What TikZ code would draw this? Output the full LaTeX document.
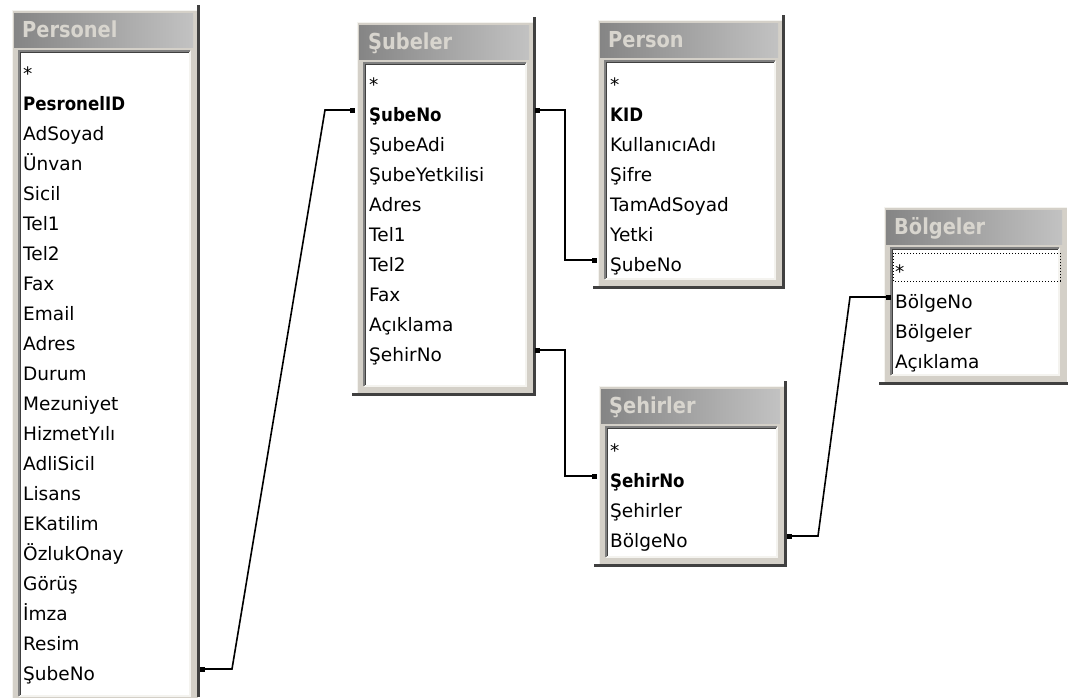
\documentclass[tikz,border=0pt]{standalone}
\usepackage{fontspec}
\setmainfont{DejaVu Sans}
\usepackage{graphicx}
\usetikzlibrary{calc}
\definecolor{face}{HTML}{D4D0C8}
\definecolor{dark}{HTML}{404040}
\definecolor{mid}{HTML}{808080}
\definecolor{hilite}{HTML}{F4F3EF}
\definecolor{titleL}{HTML}{858585}
\definecolor{titleR}{HTML}{C2C2C2}
\definecolor{titletext}{HTML}{D8D5CE}
\newcommand\keytxt[1]{\scalebox{0.9}[1]{\bfseries #1}}
\newcommand\ttltxt[1]{\scalebox{0.88}[1]{\bfseries #1}}
\newcommand\tablewin[4]{%
  \fill[face] ({#1},{#2}) rectangle ({#3},{#4});
  \draw[hilite, line width=1pt] ({#1+0.5},{#4}) -- ({#1+0.5},{#2+0.5}) -- ({#3},{#2+0.5});
  \shade[left color=titleL, right color=titleR] ({#1+2},{#2+3}) rectangle ({#3-5},{#2+37});
  \fill[white] ({#1+7},{#2+41}) rectangle ({#3-8},{#4-8});
  \draw[hilite, line width=1.5pt] ({#1+7},{#4-8}) -- ({#3-8},{#4-8}) -- ({#3-8},{#2+41});
  \draw[mid, line width=1.5pt] ({#1+7},{#4-8}) -- ({#1+7},{#2+41}) -- ({#3-8},{#2+41});
  \draw[dark, line width=1.5pt] ({#1+8.5},{#4-9.5}) -- ({#1+8.5},{#2+42.5}) -- ({#3-9.5},{#2+42.5});
}
\tikzset{
  fld/.style={anchor=base west, inner sep=0pt, text=black, font=\fontsize{18.5}{20}\selectfont},
  ttl/.style={anchor=base west, inner sep=0pt, text=titletext, font=\fontsize{22}{24}\selectfont},
  shadowline/.style={dark, line width=3pt},
  rel/.style={black, line width=1.6pt},
  port/.style={fill=black, draw=none, minimum size=5pt, inner sep=0pt}
}
\begin{document}
\begin{tikzpicture}[x=1pt,y=-1pt]
\useasboundingbox (0,0) rectangle (1068,697);
\fill[white] (0,0) rectangle (1068,697);

% ---------- Personel ----------
\tablewin{12}{10}{198}{704}
\draw[shadowline] (198,5) -- (198,697);
\node[ttl] (perT) at (22,37) {\ttltxt{Personel}};
\node[fld] (per0) at (23,80) {*};
\node[fld] (per1) at (23,110) {\keytxt{PesronelID}};
\node[fld] (per2) at (23,140) {AdSoyad};
\node[fld] (per3) at (23,170) {Ünvan};
\node[fld] (per4) at (23,200) {Sicil};
\node[fld] (per5) at (23,230) {Tel1};
\node[fld] (per6) at (23,260) {Tel2};
\node[fld] (per7) at (23,290) {Fax};
\node[fld] (per8) at (23,320) {Email};
\node[fld] (per9) at (23,350) {Adres};
\node[fld] (per10) at (23,380) {Durum};
\node[fld] (per11) at (23,410) {Mezuniyet};
\node[fld] (per12) at (23,440) {HizmetYılı};
\node[fld] (per13) at (23,470) {AdliSicil};
\node[fld] (per14) at (23,500) {Lisans};
\node[fld] (per15) at (23,530) {EKatilim};
\node[fld] (per16) at (23,560) {ÖzlukOnay};
\node[fld] (per17) at (23,590) {Görüş};
\node[fld] (per18) at (23,620) {İmza};
\node[fld] (per19) at (23,650) {Resim};
\node[fld] (per20) at (23,680) {ŞubeNo};

% ---------- Subeler ----------
\tablewin{357}{22}{534}{394}
\draw[shadowline] (534,17) -- (534,394) -- (352,394);
\node[ttl] (subT) at (368,49) {\ttltxt{Şubeler}};
\node[fld] (sub0) at (369,91) {*};
\node[fld] (sub1) at (369,121) {\keytxt{ŞubeNo}};
\node[fld] (sub2) at (369,151) {ŞubeAdi};
\node[fld] (sub3) at (369,181) {ŞubeYetkilisi};
\node[fld] (sub4) at (369,211) {Adres};
\node[fld] (sub5) at (369,241) {Tel1};
\node[fld] (sub6) at (369,271) {Tel2};
\node[fld] (sub7) at (369,301) {Fax};
\node[fld] (sub8) at (369,331) {Açıklama};
\node[fld] (sub9) at (369,361) {ŞehirNo};

% ---------- Person ----------
\tablewin{598}{20}{783}{287}
\draw[shadowline] (783,15) -- (783,287) -- (593,287);
\node[ttl] (psnT) at (608,47) {\ttltxt{Person}};
\node[fld] (psn0) at (610,91) {*};
\node[fld] (psn1) at (610,121) {\keytxt{KID}};
\node[fld] (psn2) at (610,151) {KullanıcıAdı};
\node[fld] (psn3) at (610,181) {Şifre};
\node[fld] (psn4) at (610,211) {TamAdSoyad};
\node[fld] (psn5) at (610,241) {Yetki};
\node[fld] (psn6) at (610,271) {ŞubeNo};

% ---------- Sehirler ----------
\tablewin{599}{386}{785}{565}
\draw[shadowline] (785,381) -- (785,565) -- (594,565);
\node[ttl] (sehT) at (609,413) {\ttltxt{Şehirler}};
\node[fld] (seh0) at (610,457) {*};
\node[fld] (seh1) at (610,487) {\keytxt{ŞehirNo}};
\node[fld] (seh2) at (610,517) {Şehirler};
\node[fld] (seh3) at (610,547) {BölgeNo};

% ---------- Bolgeler ----------
\tablewin{884}{207}{1067}{383}
\draw[shadowline] (879,383) -- (1068,383);
\node[ttl] (bolT) at (894,234) {\ttltxt{Bölgeler}};
\draw[black, dotted, line width=1pt] (893,253) rectangle (1060,281);
\node[fld] (bol0) at (895,278) {*};
\node[fld] (bol1) at (895,308) {BölgeNo};
\node[fld] (bol2) at (895,338) {Bölgeler};
\node[fld] (bol3) at (895,368) {Açıklama};

% ---------- relationship ports ----------
\coordinate (perSubeR) at (202,669);
\coordinate (subSubeL) at (352,110);
\coordinate (subSubeR) at (537,110);
\coordinate (psnSubeL) at (594,260);
\coordinate (subSehR) at (537,350);
\coordinate (sehSehL) at (594,476);
\coordinate (sehBolR) at (789,536);
\coordinate (bolBolL) at (888,297);

\draw[rel] (perSubeR) -- ++(30,0) -- ($(subSubeL)+(-27,0)$) -- (subSubeL);
\draw[rel] (subSubeR) -- ++(28,0) |- (psnSubeL);
\draw[rel] (subSehR) -- ++(28,0) |- (sehSehL);
\draw[rel] (sehBolR) -- ++(29,0) -- ($(bolBolL)+(-38,0)$) -- (bolBolL);

\node[port] (d1) at (perSubeR) {};
\node[port] (d2) at (subSubeL) {};
\node[port] (d3) at (subSubeR) {};
\node[port] (d4) at (psnSubeL) {};
\node[port] (d5) at (subSehR) {};
\node[port] (d6) at (sehSehL) {};
\node[port] (d7) at (sehBolR) {};
\node[port] (d8) at (bolBolL) {};
\end{tikzpicture}
\end{document}
